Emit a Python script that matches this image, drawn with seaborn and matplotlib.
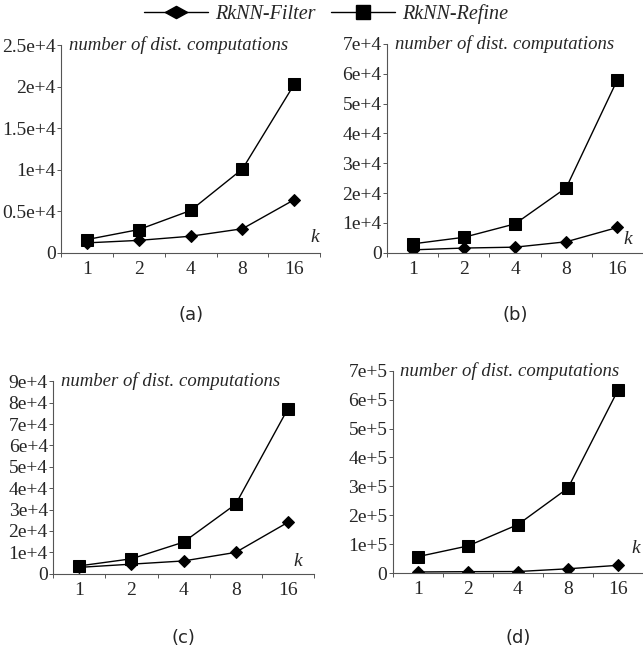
import numpy as np
import matplotlib
matplotlib.use('Agg')
import matplotlib.pyplot as plt
from matplotlib.lines import Line2D
import seaborn as sns

# data
k_values = ['1', '2', '4', '8', '16']

a_filter = [1200, 1500, 2000, 2900, 6400]
a_refine = [1600, 2800, 5100, 10100, 20300]
b_filter = [1000, 1600, 1900, 3700, 8500]
b_refine = [3000, 5200, 9700, 21800, 58000]
c_filter = [3000, 4500, 6000, 10000, 24000]
c_refine = [3700, 7000, 14800, 32500, 77000]
d_filter = [4000, 5000, 5500, 15000, 27000]
d_refine = [57000, 94000, 168000, 294000, 633000]

a_ticks = [0, 5000, 10000, 15000, 20000, 25000]
a_labels = ['0', '0.5e+4', '1e+4', '1.5e+4', '2e+4', '2.5e+4']
b_ticks = [0, 10000, 20000, 30000, 40000, 50000, 60000, 70000]
b_labels = ['0', '1e+4', '2e+4', '3e+4', '4e+4', '5e+4', '6e+4', '7e+4']
c_ticks = [0, 10000, 20000, 30000, 40000, 50000, 60000, 70000, 80000, 90000]
c_labels = ['0', '1e+4', '2e+4', '3e+4', '4e+4', '5e+4', '6e+4', '7e+4', '8e+4', '9e+4']
d_ticks = [0, 100000, 200000, 300000, 400000, 500000, 600000, 700000]
d_labels = ['0', '1e+5', '2e+5', '3e+5', '4e+5', '5e+5', '6e+5', '7e+5']

series_names = ['RkNN-Filter', 'RkNN-Refine']
captions = ['(a)', '(b)', '(c)', '(d)']

sns.set_style('ticks')
plt.rcParams['font.family'] = ['Liberation Serif', 'DejaVu Serif']

fig = plt.figure(figsize=(6.43, 6.55), dpi=100)

boxes = [
    [0.095, 0.614, 0.403, 0.317],
    [0.602, 0.614, 0.398, 0.319],
    [0.083, 0.124, 0.405, 0.294],
    [0.611, 0.125, 0.389, 0.309],
]
caption_y = [0.519, 0.519, 0.026, 0.026]
k_pos = [(0.98, 0.075), (0.94, 0.065), (0.94, 0.065), (0.97, 0.12)]
panels = [
    (a_filter, a_refine, a_ticks, a_labels),
    (b_filter, b_refine, b_ticks, b_labels),
    (c_filter, c_refine, c_ticks, c_labels),
    (d_filter, d_refine, d_ticks, d_labels),
]

for box, (filt, refi, ticks, labels), cap, cy, kp in zip(boxes, panels, captions, caption_y, k_pos):
    ax = fig.add_axes(box)
    sns.pointplot(x=k_values, y=filt, color='black', marker='D', markersize=6.5,
                  linewidth=1, errorbar=None, ax=ax)
    sns.pointplot(x=k_values, y=refi, color='black', marker='s', markersize=8.5,
                  linewidth=1, errorbar=None, ax=ax)
    ax.set_xlim(-0.5, 4.5)
    ax.set_ylim(0, ticks[-1])
    ax.set_yticks(ticks, labels=labels)
    ax.set_xticks(np.arange(-0.5, 5, 1), minor=True)
    ax.tick_params(axis='x', which='major', length=0, labelsize=14, pad=6)
    ax.tick_params(axis='x', which='minor', length=3, width=0.7, color='#555555')
    ax.tick_params(axis='y', length=3, width=0.7, color='#555555', labelsize=14, pad=1)
    for s in ['top', 'right']:
        ax.spines[s].set_visible(False)
    for s in ['left', 'bottom']:
        ax.spines[s].set_linewidth(0.8)
        ax.spines[s].set_color('#555555')
    ax.set_xlabel('')
    ax.set_ylabel('')
    ax.text(0.03, 1.0, 'number of dist. computations', transform=ax.transAxes,
            fontsize=13.5, style='italic', va='center', ha='left')
    ax.text(kp[0], kp[1], 'k', transform=ax.transAxes, fontsize=14,
            style='italic', va='center', ha='center', clip_on=False)
    fig.text(box[0] + box[2] / 2, cy, cap, fontsize=13,
             family='DejaVu Sans', ha='center', va='center')

flat_diamond = [(-1, 0), (0, 0.55), (1, 0), (0, -0.55), (-1, 0)]
handles = [
    Line2D([], [], color='black', marker=flat_diamond, markersize=16, linewidth=1),
    Line2D([], [], color='black', marker='s', markersize=10, linewidth=1),
]
leg = fig.legend(handles, series_names, loc='center', bbox_to_anchor=(0.507, 0.979),
                 ncol=2, frameon=False, handlelength=3.2, columnspacing=0.75,
                 handletextpad=0.35, prop={'size': 14.5, 'style': 'italic'})

fig.savefig('out.png', dpi=100)
